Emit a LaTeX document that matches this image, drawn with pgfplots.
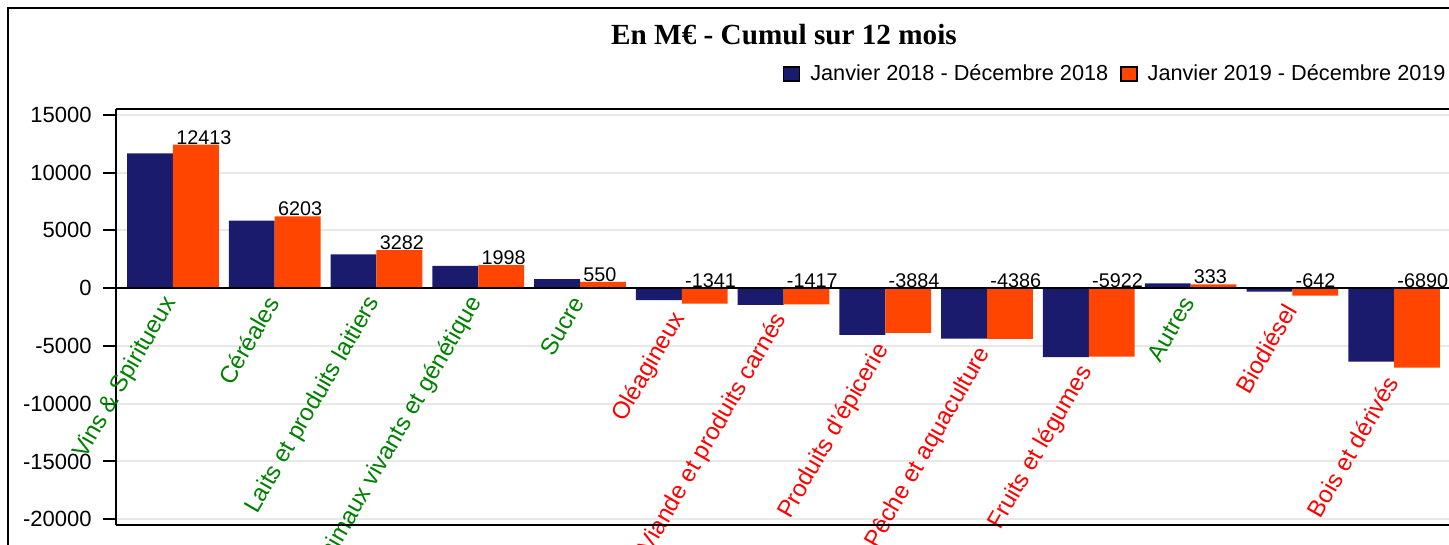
\documentclass[border=0pt]{standalone}
\usepackage{fontspec}
\setmainfont{Liberation Sans}
\newfontfamily\titlefont{Liberation Serif}
\usepackage{pgfplots}
\usepackage{pgfplotstable}
\pgfplotsset{compat=1.18}
\definecolor{navyb}{HTML}{1B1B6E}
\definecolor{orng}{HTML}{FF4500}
\definecolor{labgreen}{HTML}{008000}
\definecolor{labred}{HTML}{FF0000}
\pgfplotstableread{
x v2018 v2019
0 11650 12413
1 5850 6203
2 2920 3282
3 1930 1998
4 780 550
5 -1050 -1341
6 -1450 -1417
7 -4050 -3884
8 -4380 -4386
9 -5970 -5922
10 410 333
11 -300 -642
12 -6360 -6890
}\data
% lowest point of each category (in pt below the zero line), used to place its label under the bars
\pgfplotstableforeachcolumnelement{v2018}\of\data\as\cellA{%
  \edef\myrow{\pgfplotstablerow}%
  \pgfplotstablegetelem{\myrow}{v2019}\of\data
  \let\cellB\pgfplotsretval
  \pgfmathsetmacro\tmp{min(\cellA,\cellB,0)*0.00577778}%
  \expandafter\xdef\csname catlow\myrow\endcsname{\tmp}%
}
\begin{document}
\begin{tikzpicture}
\useasboundingbox (0,0) rectangle (724.5pt,-272.5pt);
\clip (0,0) rectangle (724.5pt,-272.5pt);
\draw[line width=1pt] (4pt,-4pt) rectangle (760pt,-300pt);
\node[font=\titlefont\bfseries\fontsize{14.6}{17}\selectfont, anchor=base] at (392pt,-22.5pt) {En M€ - Cumul sur 12 mois};
\begin{axis}[
  at={(58pt,-262.5pt)}, anchor=south west,
  scale only axis, width=667pt, height=208pt,
  xmin=-0.56, xmax=12.55, ymin=-20500, ymax=15500,
  clip=false,
  axis x line=middle, x axis line style={-, line width=1pt},
  axis y line=left, y axis line style={-, line width=1pt},
  hide obscured x ticks=false,
  tick align=outside,
  major tick length=6.5pt,
  ytick={-20000,-15000,...,15000},
  ytick style={line width=1pt, black},
  scaled y ticks=false,
  /pgf/number format/.cd, 1000 sep={}, assume math mode=true, /pgfplots/.cd,
  yticklabel style={font=\fontsize{11}{13}\selectfont, inner sep=0pt, xshift=-5.5pt},
  ymajorgrids, major grid style={draw=black!9, line width=1pt},
  xtick={0,1,...,12},
  xtick style={draw=none, /pgfplots/major tick length=0pt},
  xticklabels={
    \textcolor{labgreen}{Vins \& Spiritueux},
    \textcolor{labgreen}{Céréales},
    \textcolor{labgreen}{Laits et produits laitiers},
    \textcolor{labgreen}{Animaux vivants et génétique},
    \textcolor{labgreen}{Sucre},
    \textcolor{labred}{Oléagineux},
    \textcolor{labred}{Viande et produits carnés},
    \textcolor{labred}{Produits d'épicerie},
    \textcolor{labred}{Pêche et aquaculture},
    \textcolor{labred}{Fruits et légumes},
    \textcolor{labgreen}{Autres},
    \textcolor{labred}{Biodiésel},
    \textcolor{labred}{Bois et dérivés}},
  xticklabel style={xshift=-0.9pt, yshift={\csname catlow\ticknum\endcsname pt+1.25pt}, rotate=60, anchor=east, inner sep=0pt, font=\fontsize{12}{14}\selectfont},
  legend columns=2,
  legend style={draw=none, fill=none, at={(axis description cs:1.0,1.084)}, anchor=east,
    font=\fontsize{10.85}{13}\selectfont, inner sep=0pt,
    nodes={inner xsep=2pt, inner ysep=1pt},
    /tikz/every odd column/.append style={column sep=3pt},
    /tikz/every even column/.append style={column sep=4pt}},
]
\addplot[ybar, bar width=0.45, bar shift=-0.225, fill=navyb, draw=none,
  legend image code/.code={\draw[fill=navyb, draw=black, line width=0.7pt] (0pt,-3.5pt) rectangle (8pt,3.5pt);}]
  table[x=x, y=v2018]{\data};
\addlegendentry{Janvier 2018 - Décembre 2018}
\addplot[ybar, bar width=0.45, bar shift=0.225, fill=orng, draw=none,
  legend image code/.code={\draw[fill=orng, draw=black, line width=0.7pt] (0pt,-3.5pt) rectangle (8pt,3.5pt);}]
  table[x=x, y=v2019]{\data};
\addlegendentry{Janvier 2019 - Décembre 2019}
\addplot[draw=none, forget plot, nodes near coords, point meta=explicit symbolic,
  nodes near coords style={anchor=south west, inner sep=0pt, xshift=1.5pt, font=\fontsize{9.9}{11}\selectfont, text=black}]
  table[x=x, y expr={max(\thisrow{v2019},0)}, meta=v2019]{\data};
\draw[line width=1pt] (axis cs:-0.56,0) -- (axis cs:12.55,0);
\draw[line width=1pt] (rel axis cs:0,1) -- (rel axis cs:1,1);
\draw[line width=1pt] (rel axis cs:0,0) -- (rel axis cs:1,0);
\end{axis}
\end{tikzpicture}
\end{document}
